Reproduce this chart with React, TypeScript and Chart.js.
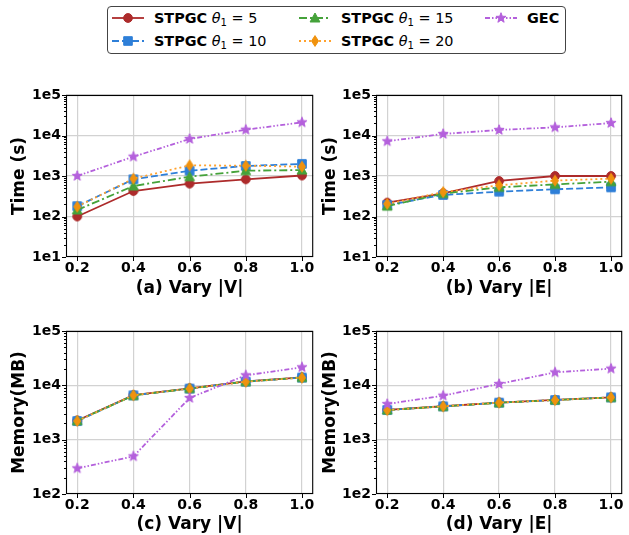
import React, { useEffect, useRef } from 'react';
import { Chart, registerables } from 'chart.js';

Chart.register(...registerables);
Chart.defaults.font.family = "'DejaVu Sans', sans-serif";

// ---------- data ----------
const xValues = [0.2, 0.4, 0.6, 0.8, 1.0];
const xTickLabels = ['0.2', '0.4', '0.6', '0.8', '1.0'];

const timeDecades = [1, 2, 3, 4, 5];
const timeTickLabels = ['1e1', '1e2', '1e3', '1e4', '1e5'];
const memDecades = [2, 3, 4, 5];
const memTickLabels = ['1e2', '1e3', '1e4', '1e5'];

const seriesNames = ['STPGC θ1 = 5', 'STPGC θ1 = 10', 'STPGC θ1 = 15', 'STPGC θ1 = 20', 'GEC'];

// (a) Time, vary |V|
const timeV_stpgc5 = [100, 425, 650, 830, 1030];
const timeV_stpgc10 = [180, 830, 1350, 1770, 1990];
const timeV_stpgc15 = [145, 565, 960, 1350, 1400];
const timeV_stpgc20 = [175, 860, 1830, 1800, 1700];
const timeV_gec = [1000, 3000, 8200, 13900, 21100];

// (b) Time, vary |E|
const timeE_stpgc5 = [220, 373, 755, 1000, 1000];
const timeE_stpgc10 = [192, 340, 410, 470, 525];
const timeE_stpgc15 = [180, 370, 525, 620, 725];
const timeE_stpgc20 = [205, 400, 590, 770, 860];
const timeE_gec = [7200, 10900, 13700, 15900, 20300];

// (c) Memory, vary |V|
const memV_stpgc5 = [2250, 6600, 8800, 11800, 14000];
const memV_stpgc10 = [2200, 6550, 8700, 11700, 13900];
const memV_stpgc15 = [2230, 6500, 8750, 11750, 13950];
const memV_stpgc20 = [2210, 6580, 8720, 11650, 13850];
const memV_gec = [297, 493, 5850, 15300, 21500];

// (d) Memory, vary |E|
const memE_stpgc5 = [3530, 4120, 4820, 5380, 6020];
const memE_stpgc10 = [3520, 4100, 4800, 5370, 6000];
const memE_stpgc15 = [3510, 4090, 4790, 5360, 5990];
const memE_stpgc20 = [3500, 4110, 4810, 5350, 6010];
const memE_gec = [4530, 6450, 10600, 17350, 20300];

// ---------- styles ----------
type Shape = 'circle' | 'square' | 'triangle' | 'diamond' | 'star';
const seriesStyles: { color: string; mcolor: string; dash: number[]; shape: Shape }[] = [
  { color: '#ad2b2b', mcolor: '#ad2b2b', dash: [], shape: 'circle' },
  { color: '#2e7fd8', mcolor: '#2e7fd8', dash: [7, 3], shape: 'square' },
  { color: '#45a23a', mcolor: '#45a23a', dash: [8, 3, 2, 3], shape: 'triangle' },
  { color: '#ffa22e', mcolor: '#f0920e', dash: [2, 3], shape: 'diamond' },
  { color: '#b460dc', mcolor: '#b460dc', dash: [5, 2, 1.5, 2, 1.5, 2], shape: 'star' },
];

const FONT = "'DejaVu Sans', sans-serif";
const GRID = '#d2d2d2';

function shapePoints(shape: Shape): [number, number][] {
  switch (shape) {
    case 'square':
      return [[-4.3, -4.3], [4.3, -4.3], [4.3, 4.3], [-4.3, 4.3]];
    case 'triangle':
      return [[0, -5], [4.9, 4], [-4.9, 4]];
    case 'diamond':
      return [[0, -5.4], [3.5, 0], [0, 5.4], [-3.5, 0]];
    case 'star': {
      const pts: [number, number][] = [];
      for (let i = 0; i < 10; i++) {
        const r = i % 2 === 0 ? 5.3 : 2.2;
        const a = -Math.PI / 2 + (i * Math.PI) / 5;
        pts.push([r * Math.cos(a), r * Math.sin(a)]);
      }
      return pts;
    }
    default:
      return [];
  }
}

function makeMarker(shape: Shape, color: string): HTMLCanvasElement {
  const c = document.createElement('canvas');
  c.width = 16;
  c.height = 16;
  const ctx = c.getContext('2d')!;
  ctx.translate(8, 8);
  ctx.fillStyle = color;
  ctx.strokeStyle = color;
  ctx.lineWidth = 1;
  ctx.beginPath();
  if (shape === 'circle') {
    ctx.arc(0, 0, 4.4, 0, Math.PI * 2);
  } else {
    const pts = shapePoints(shape);
    pts.forEach(([x, y], i) => (i === 0 ? ctx.moveTo(x, y) : ctx.lineTo(x, y)));
    ctx.closePath();
  }
  ctx.fill();
  ctx.stroke();
  return c;
}

const isDecade = (v: number) => {
  const e = Math.log10(v);
  return Math.abs(e - Math.round(e)) < 1e-9;
};

const mplAxesPlugin = {
  id: 'mplAxes',
  afterDraw(chart: any) {
    const { ctx, chartArea: a, scales } = chart;
    ctx.save();
    ctx.strokeStyle = '#000';
    ctx.lineWidth = 1;
    const ys = scales.y;
    ys.ticks.forEach((t: any) => {
      const py = Math.round(ys.getPixelForValue(t.value)) + 0.5;
      const len = isDecade(t.value) ? 4 : 2;
      ctx.beginPath();
      ctx.moveTo(a.left - len, py);
      ctx.lineTo(a.left, py);
      ctx.stroke();
    });
    const xs = scales.x;
    xs.ticks.forEach((t: any) => {
      const px = Math.round(xs.getPixelForValue(t.value)) + 0.5;
      ctx.beginPath();
      ctx.moveTo(px, a.bottom);
      ctx.lineTo(px, a.bottom + 4);
      ctx.stroke();
    });
    ctx.lineWidth = 1.1;
    ctx.strokeRect(a.left + 0.5, a.top + 0.5, a.right - a.left - 1, a.bottom - a.top - 1);
    ctx.restore();
  },
};

type PanelProps = {
  left: number;
  top: number;
  w: number;
  h: number;
  padTop: number;
  padRight: number;
  yWidth: number;
  xHeight: number;
  yTitlePad: number;
  xTitlePad: number;
  yTitle: string;
  xTitle: string;
  decades: number[];
  decadeLabels: string[];
  series: number[][];
};

function Panel(p: PanelProps) {
  const ref = useRef<HTMLCanvasElement>(null);
  useEffect(() => {
    const canvas = ref.current!;
    const minV = Math.pow(10, p.decades[0]);
    const maxV = Math.pow(10, p.decades[p.decades.length - 1]);
    const tickVals: number[] = [];
    for (let k = 0; k < p.decades.length - 1; k++) {
      for (let m = 1; m <= 9; m++) tickVals.push(m * Math.pow(10, p.decades[k]));
    }
    tickVals.push(maxV);

    const datasets = p.series.map((vals, i) => {
      const st = seriesStyles[i];
      return {
        label: seriesNames[i],
        data: xValues.map((x, j) => ({ x, y: vals[j] })),
        borderColor: st.color,
        backgroundColor: st.color,
        borderWidth: 1.8,
        borderDash: st.dash,
        pointStyle: makeMarker(st.shape, st.mcolor),
        pointRadius: 5,
        pointHoverRadius: 5,
        fill: false,
        tension: 0,
        order: 4 - i,
      };
    });

    const chart = new Chart(canvas, {
      type: 'line',
      data: { datasets: datasets as any },
      options: {
        animation: false,
        responsive: false,
        events: [],
        layout: { padding: { left: 0, top: p.padTop, right: p.padRight, bottom: 0 } },
        plugins: { legend: { display: false }, tooltip: { enabled: false } },
        scales: {
          x: {
            type: 'linear',
            min: 0.16,
            max: 1.04,
            afterBuildTicks: (s: any) => {
              s.ticks = xValues.map((v) => ({ value: v }));
            },
            afterFit: (s: any) => {
              s.height = p.xHeight;
            },
            ticks: {
              autoSkip: false,
              maxRotation: 0,
              padding: 3,
              color: '#000',
              font: { family: FONT, size: 14, weight: 'bold' },
              callback: (_v: any, i: number) => xTickLabels[i],
            },
            grid: { drawTicks: false, color: GRID, lineWidth: 1.2 },
            border: { display: false },
            title: {
              display: true,
              text: p.xTitle,
              color: '#000',
              font: { family: FONT, size: 17, weight: 'bold' },
              padding: { top: 0, bottom: p.xTitlePad },
            },
          },
          y: {
            type: 'logarithmic',
            min: minV,
            max: maxV,
            afterBuildTicks: (s: any) => {
              s.ticks = tickVals.map((v) => ({ value: v }));
            },
            afterFit: (s: any) => {
              s.width = p.yWidth;
            },
            ticks: {
              autoSkip: false,
              padding: 5,
              color: '#000',
              font: { family: FONT, size: 14, weight: 'bold' },
              callback: (v: any) => {
                if (!isDecade(v)) return '';
                const e = Math.round(Math.log10(v));
                return p.decadeLabels[p.decades.indexOf(e)];
              },
            },
            grid: {
              drawTicks: false,
              lineWidth: 1.2,
              color: (c: any) => (c.tick && isDecade(c.tick.value) ? GRID : 'rgba(0,0,0,0)'),
            },
            border: { display: false },
            title: {
              display: true,
              text: p.yTitle,
              color: '#000',
              font: { family: FONT, size: 17, weight: 'bold' },
              padding: { top: p.yTitlePad, bottom: 0 },
            },
          },
        },
      } as any,
      plugins: [mplAxesPlugin],
    });
    return () => chart.destroy();
  }, []);
  return (
    <canvas
      ref={ref}
      width={p.w}
      height={p.h}
      style={{ position: 'absolute', left: p.left, top: p.top, width: p.w, height: p.h }}
    />
  );
}

function MarkerSvg({ shape, color }: { shape: Shape; color: string }) {
  if (shape === 'circle') return <circle cx={0} cy={0} r={4.4} fill={color} stroke={color} strokeWidth={1} />;
  const pts = shapePoints(shape)
    .map(([x, y]) => `${x},${y}`)
    .join(' ');
  return <polygon points={pts} fill={color} stroke={color} strokeWidth={1} />;
}

function LegendEntry({ idx, x, y }: { idx: number; x: number; y: number }) {
  const st = seriesStyles[idx];
  const name = seriesNames[idx];
  const isGec = idx === 4;
  const theta = name.split('= ')[1];
  return (
    <>
      <svg
        width={34}
        height={16}
        viewBox="-17 -8 34 16"
        style={{ position: 'absolute', left: x, top: y - 8, overflow: 'visible' }}
      >
        <line
          x1={-16}
          y1={0}
          x2={16}
          y2={0}
          stroke={st.color}
          strokeWidth={1.8}
          strokeDasharray={st.dash.length ? st.dash.join(' ') : undefined}
        />
        <MarkerSvg shape={st.shape} color={st.mcolor} />
      </svg>
      <div
        style={{
          position: 'absolute',
          left: x + 43,
          top: y - 10,
          height: 20,
          lineHeight: '20px',
          whiteSpace: 'nowrap',
          fontFamily: FONT,
          fontSize: 14.4,
          color: '#000',
        }}
      >
        {isGec ? (
          <span style={{ fontWeight: 'bold' }}>GEC</span>
        ) : (
          <>
            <span style={{ fontWeight: 'bold' }}>STPGC</span>{' '}
            <span style={{ fontStyle: 'italic' }}>θ</span>
            <sub style={{ fontSize: '0.7em', verticalAlign: '-0.3em', lineHeight: 0 }}>1</sub>
            <span>{' = ' + theta}</span>
          </>
        )}
      </div>
    </>
  );
}

export default function App() {
  return (
    <div style={{ position: 'absolute', left: 0, top: 0, width: 629, height: 535, background: '#fff' }}>
      <div
        style={{
          position: 'absolute',
          left: 107,
          top: 6,
          width: 457,
          height: 46,
          border: '1.2px solid #444',
          borderRadius: 4,
        }}
      />
      <LegendEntry idx={0} x={111} y={18} />
      <LegendEntry idx={1} x={111} y={41} />
      <LegendEntry idx={2} x={298} y={18} />
      <LegendEntry idx={3} x={298} y={41} />
      <LegendEntry idx={4} x={484} y={18} />

      <Panel
        left={0}
        top={70}
        w={320}
        h={245}
        padTop={25}
        padRight={5}
        yWidth={66}
        xHeight={58}
        yTitlePad={9}
        xTitlePad={16}
        yTitle="Time (s)"
        xTitle="(a) Vary |V|"
        decades={timeDecades}
        decadeLabels={timeTickLabels}
        series={[timeV_stpgc5, timeV_stpgc10, timeV_stpgc15, timeV_stpgc20, timeV_gec]}
      />
      <Panel
        left={320}
        top={70}
        w={309}
        h={245}
        padTop={25}
        padRight={3}
        yWidth={56}
        xHeight={58}
        yTitlePad={0}
        xTitlePad={16}
        yTitle="Time (s)"
        xTitle="(b) Vary |E|"
        decades={timeDecades}
        decadeLabels={timeTickLabels}
        series={[timeE_stpgc5, timeE_stpgc10, timeE_stpgc15, timeE_stpgc20, timeE_gec]}
      />
      <Panel
        left={0}
        top={315}
        w={320}
        h={220}
        padTop={16}
        padRight={5}
        yWidth={66}
        xHeight={41}
        yTitlePad={9}
        xTitlePad={0}
        yTitle="Memory(MB)"
        xTitle="(c) Vary |V|"
        decades={memDecades}
        decadeLabels={memTickLabels}
        series={[memV_stpgc5, memV_stpgc10, memV_stpgc15, memV_stpgc20, memV_gec]}
      />
      <Panel
        left={320}
        top={315}
        w={309}
        h={220}
        padTop={16}
        padRight={3}
        yWidth={56}
        xHeight={41}
        yTitlePad={0}
        xTitlePad={0}
        yTitle="Memory(MB)"
        xTitle="(d) Vary |E|"
        decades={memDecades}
        decadeLabels={memTickLabels}
        series={[memE_stpgc5, memE_stpgc10, memE_stpgc15, memE_stpgc20, memE_gec]}
      />
    </div>
  );
}
